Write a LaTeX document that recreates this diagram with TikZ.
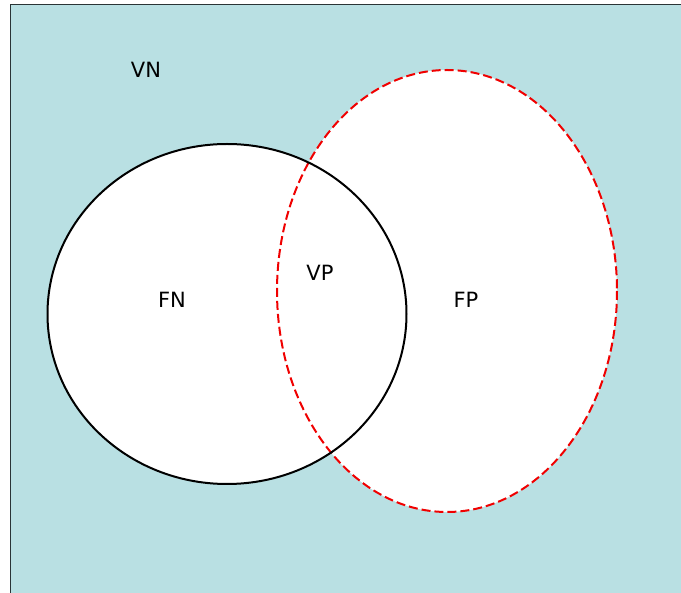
\documentclass[tikz,border=0pt]{standalone}
\usepackage{fontspec}
\setmainfont{DejaVu Sans}
\usepackage{tikz}
\usetikzlibrary{positioning}
\definecolor{teal}{HTML}{B9E0E3}
\definecolor{edge}{HTML}{2A3436}
\definecolor{red}{HTML}{F00000}

\begin{document}
\begin{tikzpicture}[
  x=1pt, y=-1pt,
  lab/.style={font=\fontsize{21}{25}\selectfont, inner sep=0pt},
  setline/.style={line width=2pt, black},
  predline/.style={line width=2pt, red, dash pattern=on 9pt off 4pt}
]
  \useasboundingbox (0,0) rectangle (681,593);
  % universe
  \fill[teal] (10,5) rectangle (690,600);
  \draw[edge, line width=1pt] (10,600) -- (10,5) -- (690,5);
  % white fills first, outlines on top
  \fill[white] (447,291) ellipse [x radius=170, y radius=221];
  \fill[white] (227,314) ellipse [x radius=179.5, y radius=170];
  \draw[predline] (447,291) ellipse [x radius=170, y radius=221];
  \draw[setline] (227,314) ellipse [x radius=179.5, y radius=170];
  % labels
  \node[lab] (vn) at (146,70) {VN};
  \node[lab] (fn) at (172,300) {FN};
  \node[lab] (vp) at (320,273) {VP};
  \node[lab] (fp) at (466,300) {FP};
\end{tikzpicture}
\end{document}
